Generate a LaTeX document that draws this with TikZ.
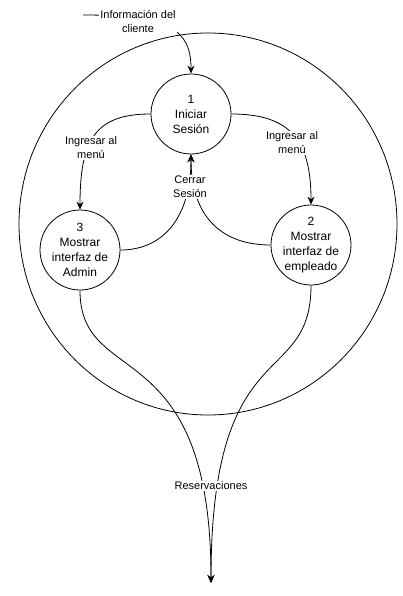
\documentclass[tikz,border=0pt]{standalone}
\usepackage{fontspec}
\setmainfont{Liberation Sans}
\usetikzlibrary{arrows.meta}
\begin{document}
\begin{tikzpicture}[x=1pt,y=-1pt,line width=0.8pt,
  proc/.style={circle,draw,minimum size=80pt,inner sep=-6pt,align=center,
    font=\fontsize{12}{15}\selectfont},
  flowlabel/.style={fill=white,inner sep=1pt,align=center,
    font=\fontsize{11}{14}\selectfont},
  flow/.style={-{Stealth[length=8pt,width=7pt]}}]
\useasboundingbox (0,0) rectangle (402,596);

% system boundary
\draw (208,224) ellipse [x radius=189pt, y radius=191pt];

% processes
\node[proc] (n1) at (191,114) {1\\Iniciar\\Sesión};
\node[proc] (n3) at (80,250) {3\\Mostrar\\interfaz de\\Admin};
\node[proc] (n2) at (311,245) {2\\Mostrar\\interfaz de\\empleado};

\coordinate (infostart) at (83,15);
\coordinate (resend) at (211,583);

% data flows
\draw[flow] (infostart) .. controls (170,15) and (191,30) .. (n1.north);
\draw[flow] (n1.west) .. controls (95,114) and (80,140) .. (n3.north);
\draw[flow] (n1.east) .. controls (290,114) and (311,140) .. (n2.north);
\draw[flow] (n3.east) .. controls (165,250) and (191,215) .. (n1.south);
\draw[flow] (n2.west) .. controls (220,245) and (191,215) .. (n1.south);
\draw[flow] (n3.south) .. controls (80,390) and (211,330) .. (resend);
\draw[flow] (n2.south) .. controls (311,390) and (211,330) .. (resend);

% flow labels
\node[flowlabel] (linfo) at (138,22) {Información del\\cliente};
\node[flowlabel] (lleft) at (91,148) {Ingresar al\\menú};
\node[flowlabel] (lright) at (292,143) {Ingresar al\\menú};
\node[flowlabel] (lclose) at (190,187) {Cerrar\\Sesión};
\node[flowlabel] (lres) at (211,486) {Reservaciones};
\end{tikzpicture}
\end{document}
